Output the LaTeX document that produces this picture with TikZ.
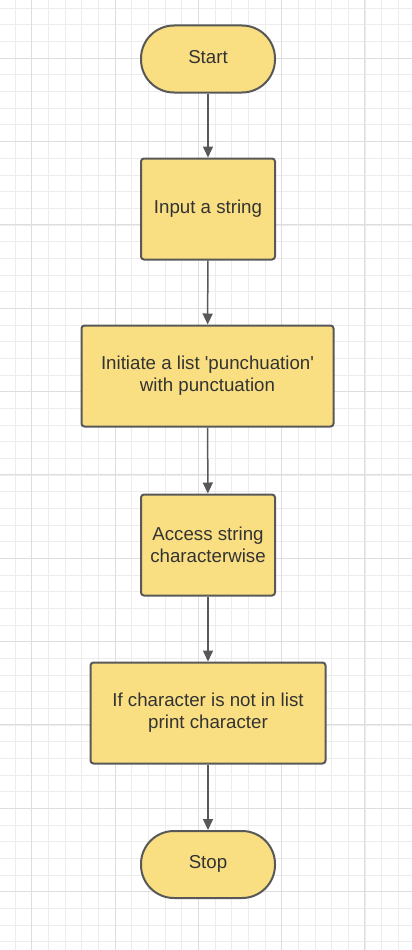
\documentclass[tikz,border=0pt]{standalone}
\usepackage{fontspec}
\setmainfont{Liberation Sans}
\usetikzlibrary{positioning}
\usetikzlibrary{arrows.meta,shapes}
\definecolor{boxfill}{RGB}{249,223,130}
\definecolor{boxline}{RGB}{88,88,88}
\definecolor{txt}{RGB}{51,51,51}
\definecolor{minorgrid}{RGB}{236,236,236}
\definecolor{majorgrid}{RGB}{222,222,222}

\begin{document}
\begin{tikzpicture}
  [x=1pt,y=-1pt,
  terminal/.style={rectangle,rounded corners=33pt,draw=boxline,fill=boxfill,line width=2pt,minimum width=134pt,minimum height=67pt,text=txt,font=\fontsize{18.7}{22}\selectfont,text depth=5pt,align=center},
  process/.style={rectangle,rounded corners=3pt,draw=boxline,fill=boxfill,line width=2pt,minimum height=101pt,text=txt,font=\fontsize{18.7}{22}\selectfont,align=center},
  flow/.style={-{Triangle[length=11pt,width=10pt]},draw=boxline,line width=1.5pt}]
  \useasboundingbox (0,0) rectangle (412,950);
  \fill[white] (0,0) rectangle (412,950);
  % background grid
  \foreach \i in {0,...,24} {
    \draw[minorgrid,line width=1pt] ({15+16.667*\i},0) -- ({15+16.667*\i},950);
  }
  \foreach \i in {0,...,56} {
    \draw[minorgrid,line width=1pt] (0,{8.33+16.667*\i}) -- (412,{8.33+16.667*\i});
  }
  \foreach \i in {0,...,4} {
    \draw[majorgrid,line width=1pt] ({31.67+83.33*\i},0) -- ({31.67+83.33*\i},950);
  }
  \foreach \i in {0,...,11} {
    \draw[majorgrid,line width=1pt] (0,{58.33+83.33*\i}) -- (412,{58.33+83.33*\i});
  }

  \node[terminal] (start) at (208,59) {Start};
  \node[process,minimum width=134pt] (input) at (208,209) {Input a string};
  \node[process,minimum width=252pt] (init) at (207.5,376) {Initiate a list \textquotesingle punchuation\textquotesingle\\with punctuation};
  \node[process,minimum width=134pt] (access) at (208,545) {Access string\\characterwise};
  \node[process,minimum width=235pt] (check) at (208,713) {If character is not in list\\print character};
  \node[terminal] (stop) at (208,864.5) {Stop};

  \draw[flow] (start) -- (input);
  \draw[flow] (input) -- (init);
  \draw[flow] (init) -- (access);
  \draw[flow] (access) -- (check);
  \draw[flow] (check) -- (stop);
\end{tikzpicture}
\end{document}
